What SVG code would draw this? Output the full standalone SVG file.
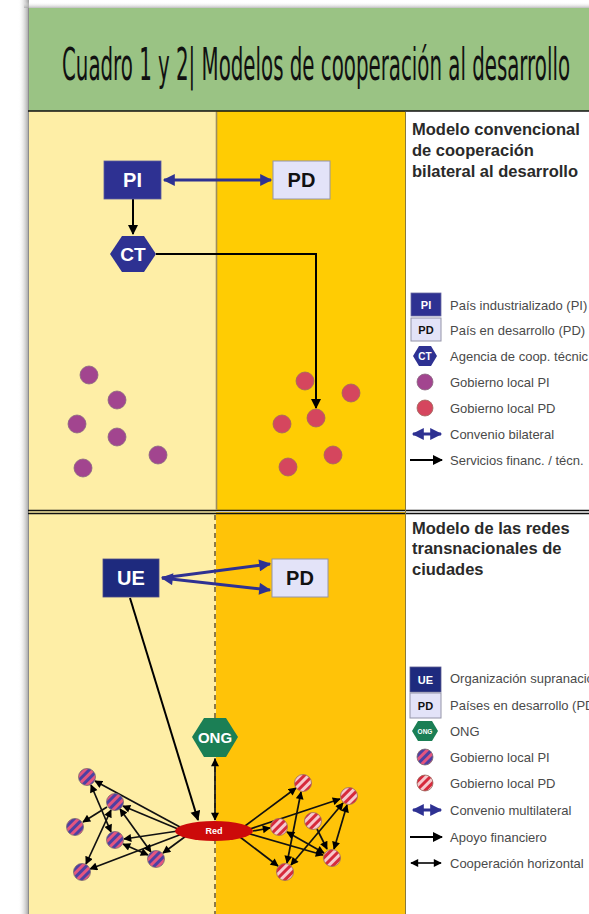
<svg xmlns="http://www.w3.org/2000/svg" width="589" height="914" viewBox="0 0 589 914">
<defs>
<linearGradient id="shL" x1="0" x2="1" y1="0" y2="0">
<stop offset="0" stop-color="#ffffff" stop-opacity="0"/>
<stop offset="1" stop-color="#8a8a8a" stop-opacity="0.85"/>
</linearGradient>
<linearGradient id="shT" x1="0" x2="0" y1="0" y2="1">
<stop offset="0" stop-color="#ffffff" stop-opacity="0"/>
<stop offset="1" stop-color="#a0a0a0" stop-opacity="0.7"/>
</linearGradient>
<pattern id="stPI" width="6" height="6" patternUnits="userSpaceOnUse" patternTransform="rotate(45)">
<rect width="6" height="6" fill="#E4557F"/>
<rect width="3" height="6" fill="#4D40A2"/>
</pattern>
<pattern id="stPD" width="6" height="6" patternUnits="userSpaceOnUse" patternTransform="rotate(45)">
<rect width="6" height="6" fill="#F6C9CE"/>
<rect width="3" height="6" fill="#D62A3C"/>
</pattern>
<marker id="bh" viewBox="0 0 10 10" refX="9" refY="5" markerWidth="13" markerHeight="12" markerUnits="userSpaceOnUse" orient="auto-start-reverse">
<path d="M0,0 L10,5 L0,10 z" fill="#2E3192"/>
</marker>
<marker id="kh" viewBox="0 0 10 10" refX="9" refY="5" markerWidth="11" markerHeight="10" markerUnits="userSpaceOnUse" orient="auto-start-reverse">
<path d="M0,0 L10,5 L0,10 z" fill="#000"/>
</marker>
<marker id="sh" viewBox="0 0 10 10" refX="9" refY="5" markerWidth="9" markerHeight="8" markerUnits="userSpaceOnUse" orient="auto-start-reverse">
<path d="M0,0 L10,5 L0,10 z" fill="#000"/>
</marker>
</defs>
<style>
.title{font-family:"Liberation Sans",Arial,sans-serif;font-weight:bold;font-size:16.5px;fill:#2a2a2a}
.leg{font-family:"Liberation Sans",Arial,sans-serif;font-size:13px;fill:#4a4a4a}
.nlab{font-family:"Liberation Sans",Arial,sans-serif;font-weight:bold;text-anchor:middle;dominant-baseline:central}
.blue{stroke:#2E3192;stroke-width:3;fill:none}
.blk{stroke:#000;stroke-width:2;fill:none}
.net{stroke:#111;stroke-width:1.7;fill:none}
.pd{fill:#E3E3F8;stroke:#9494a8;stroke-width:1}
.cpi{fill:#A2458F;stroke:#8a6a80;stroke-width:0.8}
.cpd{fill:#D5465E;stroke:#a06a60;stroke-width:0.8}
.spi{fill:url(#stPI);stroke:#7a6a70;stroke-width:0.8}
.spd{fill:url(#stPD);stroke:#9a6a60;stroke-width:0.8}
</style>
<rect width="589" height="914" fill="#ffffff"/>
<rect x="18" y="0" width="11" height="914" fill="url(#shL)"/>
<rect x="24" y="2" width="565" height="6" fill="url(#shT)"/>
<g id="panel">
<rect x="29" y="8" width="560" height="103" fill="#9AC384"/>
<rect x="29" y="111" width="187" height="803" fill="#FEEEA6"/>
<rect x="216" y="111" width="189" height="400" fill="#FFCC03"/>
<rect x="216" y="512" width="189" height="402" fill="#FFC308"/>
<rect x="405" y="111" width="184" height="803" fill="#ffffff"/>
<line x1="28.5" y1="8" x2="28.5" y2="914" stroke="#8c8c8c" stroke-width="1"/>
<line x1="28" y1="111" x2="589" y2="111" stroke="#111" stroke-width="1.6"/>
<line x1="28" y1="510.5" x2="589" y2="510.5" stroke="#111" stroke-width="1.3"/>
<line x1="28" y1="513.5" x2="589" y2="513.5" stroke="#111" stroke-width="1.3"/>
<line x1="216.5" y1="112" x2="216.5" y2="510" stroke="#9E8E5E" stroke-width="1.6"/>
<line x1="215" y1="515" x2="215" y2="914" stroke="#8C7B4A" stroke-width="2" stroke-dasharray="5 4"/>
<line x1="405.5" y1="112" x2="405.5" y2="914" stroke="#8a7a3a" stroke-width="1"/>
<text x="62" y="80" font-family="'DejaVu Sans Condensed','DejaVu Sans',sans-serif" font-size="45" textLength="508" lengthAdjust="spacingAndGlyphs" fill="#111">Cuadro 1 y 2| Modelos de cooperación al desarrollo</text>
</g>
<g id="legend-top">
<text class="title" x="412" y="135">Modelo convencional</text>
<text class="title" x="412" y="156">de cooperación</text>
<text class="title" x="412" y="177">bilateral al desarrollo</text>
<rect x="411" y="293" width="30" height="23" fill="#2E3192" stroke="#6a6aa0" stroke-width="0.8"/>
<text class="nlab" x="426" y="304.5" font-size="11" fill="#fff">PI</text>
<rect x="411" y="318" width="30" height="23" class="pd"/>
<text class="nlab" x="426" y="329.5" font-size="11" fill="#111">PD</text>
<polygon points="413,356 419,346 431,346 437,356 431,366 419,366" fill="#2E3192"/>
<text class="nlab" x="425" y="356" font-size="10" fill="#fff">CT</text>
<circle cx="425" cy="382" r="8" class="cpi"/>
<circle cx="425" cy="408" r="8" class="cpd"/>
<line x1="413" y1="434" x2="441" y2="434" class="blue" marker-start="url(#bh)" marker-end="url(#bh)"/>
<line x1="410" y1="460" x2="442" y2="460" class="blk" marker-end="url(#kh)"/>
<text class="leg" x="450" y="309.5">País industrializado (PI)</text>
<text class="leg" x="450" y="334.5">País en desarrollo (PD)</text>
<text class="leg" x="450" y="360.5">Agencia de coop. técnic</text>
<text class="leg" x="450" y="386.5">Gobierno local PI</text>
<text class="leg" x="450" y="412.5">Gobierno local PD</text>
<text class="leg" x="450" y="438.5">Convenio bilateral</text>
<text class="leg" x="450" y="464.5">Servicios financ. / técn.</text>
</g>
<g id="legend-bottom">
<text class="title" x="412" y="534">Modelo de las redes</text>
<text class="title" x="412" y="554">transnacionales de</text>
<text class="title" x="412" y="575">ciudades</text>
<rect x="410" y="667" width="31" height="25" fill="#1E2A7E" stroke="#5a5a90" stroke-width="0.8"/>
<text class="nlab" x="425.5" y="679.5" font-size="11" fill="#fff">UE</text>
<rect x="410" y="693" width="31" height="25" class="pd"/>
<text class="nlab" x="425.5" y="705.5" font-size="11" fill="#111">PD</text>
<polygon points="412,731 418,721 432,721 438,731 432,741 418,741" fill="#1B7F55"/>
<text class="nlab" x="425" y="731" font-size="6.5" font-weight="normal" fill="#fff">ONG</text>
<circle cx="425" cy="757" r="8" class="spi"/>
<circle cx="425" cy="783" r="8" class="spd"/>
<line x1="413" y1="810" x2="441" y2="810" class="blue" marker-start="url(#bh)" marker-end="url(#bh)"/>
<line x1="410" y1="837" x2="442" y2="837" class="blk" marker-end="url(#kh)"/>
<line x1="411" y1="863" x2="441" y2="863" class="net" marker-start="url(#sh)" marker-end="url(#sh)"/>
<text class="leg" x="450" y="683">Organización supranacio</text>
<text class="leg" x="450" y="709.5">Países en desarrollo (PD</text>
<text class="leg" x="450" y="735.5">ONG</text>
<text class="leg" x="450" y="761.5">Gobierno local PI</text>
<text class="leg" x="450" y="787.5">Gobierno local PD</text>
<text class="leg" x="450" y="814.5">Convenio multilateral</text>
<text class="leg" x="450" y="841.5">Apoyo financiero</text>
<text class="leg" x="450" y="867.5">Cooperación horizontal</text>
</g>
<g id="connectors">
<line x1="164" y1="180" x2="271" y2="180" class="blue" marker-start="url(#bh)" marker-end="url(#bh)"/>
<line x1="133" y1="199" x2="133" y2="234" class="blk" marker-end="url(#kh)"/>
<polyline points="156,254 316,254 316,408" class="blk" marker-end="url(#kh)"/>
<line x1="162" y1="578" x2="270" y2="564" class="blue" marker-end="url(#bh)"/>
<line x1="162" y1="578" x2="270" y2="590" class="blue" marker-start="url(#bh)" marker-end="url(#bh)"/>
<line x1="130" y1="598" x2="198" y2="820" class="blk" marker-end="url(#kh)"/>
<line x1="215" y1="759" x2="215" y2="820" class="net" marker-start="url(#sh)" marker-end="url(#sh)"/>
<line x1="180" y1="827" x2="95" y2="781" class="net" marker-end="url(#sh)"/>
<line x1="178" y1="829" x2="123" y2="806" class="net" marker-end="url(#sh)"/>
<line x1="178" y1="831" x2="124" y2="839" class="net" marker-end="url(#sh)"/>
<line x1="186" y1="836" x2="163" y2="853" class="net" marker-end="url(#sh)"/>
<line x1="182" y1="834" x2="90" y2="869" class="net" marker-end="url(#sh)"/>
<line x1="91" y1="785" x2="111" y2="832" class="net" marker-start="url(#sh)" marker-end="url(#sh)"/>
<line x1="107" y1="807" x2="83" y2="822" class="net" marker-end="url(#sh)"/>
<line x1="111" y1="810" x2="86" y2="864" class="net" marker-start="url(#sh)" marker-end="url(#sh)"/>
<line x1="120" y1="809" x2="151" y2="852" class="net" marker-start="url(#sh)" marker-end="url(#sh)"/>
<line x1="123" y1="844" x2="148" y2="855" class="net" marker-start="url(#sh)" marker-end="url(#sh)"/>
<line x1="245" y1="826" x2="296" y2="788" class="net" marker-end="url(#sh)"/>
<line x1="250" y1="829" x2="340" y2="799" class="net" marker-end="url(#sh)"/>
<line x1="253" y1="831" x2="270" y2="828" class="net" marker-end="url(#sh)"/>
<line x1="250" y1="834" x2="323" y2="855" class="net" marker-end="url(#sh)"/>
<line x1="240" y1="837" x2="278" y2="866" class="net" marker-end="url(#sh)"/>
<line x1="301" y1="792" x2="287" y2="863" class="net" marker-start="url(#sh)" marker-end="url(#sh)"/>
<line x1="343" y1="803" x2="291" y2="865" class="net" marker-start="url(#sh)" marker-end="url(#sh)"/>
<line x1="347" y1="805" x2="334" y2="849" class="net" marker-start="url(#sh)" marker-end="url(#sh)"/>
<line x1="287" y1="832" x2="324" y2="853" class="net" marker-start="url(#sh)" marker-end="url(#sh)"/>
<line x1="317" y1="829" x2="327" y2="849" class="net" marker-end="url(#sh)"/>
</g>
<g id="node-PI"><rect x="104" y="161" width="57" height="38" fill="#2E3192" stroke="#5a5aa0" stroke-width="0.8"/><text class="nlab" x="132.5" y="180" font-size="20" fill="#fff">PI</text></g>
<g id="node-PD1"><rect x="273" y="161" width="57" height="38" class="pd"/><text class="nlab" x="301.5" y="180" font-size="20" fill="#111">PD</text></g>
<g id="node-CT"><polygon points="110,254 122,236 144,236 156,254 144,272 122,272" fill="#2E3192"/><text class="nlab" x="133" y="254" font-size="19" fill="#fff">CT</text></g>
<g id="locales-top">
<circle cx="89" cy="375" r="9" class="cpi"/>
<circle cx="117" cy="400" r="9" class="cpi"/>
<circle cx="77" cy="424" r="9" class="cpi"/>
<circle cx="117" cy="437" r="9" class="cpi"/>
<circle cx="158" cy="455" r="9" class="cpi"/>
<circle cx="83" cy="468" r="9" class="cpi"/>
<circle cx="305" cy="381" r="9" class="cpd"/>
<circle cx="351" cy="393" r="9" class="cpd"/>
<circle cx="316" cy="418" r="9" class="cpd"/>
<circle cx="282" cy="424" r="9" class="cpd"/>
<circle cx="333" cy="455" r="9" class="cpd"/>
<circle cx="288" cy="467" r="9" class="cpd"/>
</g>
<g id="node-UE"><rect x="103" y="559" width="56" height="38" fill="#1E2A7E" stroke="#4a4a88" stroke-width="0.8"/><text class="nlab" x="131" y="578" font-size="20" fill="#fff">UE</text></g>
<g id="node-PD2"><rect x="272" y="559" width="56" height="38" class="pd"/><text class="nlab" x="300" y="578" font-size="20" fill="#111">PD</text></g>
<g id="node-ONG"><polygon points="192,737 204,718 226,718 238,737 226,757 204,757" fill="#1B7F55"/><text class="nlab" x="215" y="737" font-size="15" fill="#fff">ONG</text></g>
<g id="node-Red"><ellipse cx="214" cy="831" rx="39" ry="10" fill="#CC0A0A"/><text class="nlab" x="214" y="831" font-size="9" font-weight="normal" fill="#fff">Red</text></g>
<g id="locales-bottom">
<circle cx="87" cy="777" r="8.5" class="spi"/>
<circle cx="115" cy="802" r="8.5" class="spi"/>
<circle cx="75" cy="827" r="8.5" class="spi"/>
<circle cx="115" cy="840" r="8.5" class="spi"/>
<circle cx="156" cy="859" r="8.5" class="spi"/>
<circle cx="82" cy="872" r="8.5" class="spi"/>
<circle cx="303" cy="783" r="8.5" class="spd"/>
<circle cx="349" cy="796" r="8.5" class="spd"/>
<circle cx="279" cy="827" r="8.5" class="spd"/>
<circle cx="313" cy="821" r="8.5" class="spd"/>
<circle cx="332" cy="858" r="8.5" class="spd"/>
<circle cx="285" cy="872" r="8.5" class="spd"/>
</g>
</svg>
